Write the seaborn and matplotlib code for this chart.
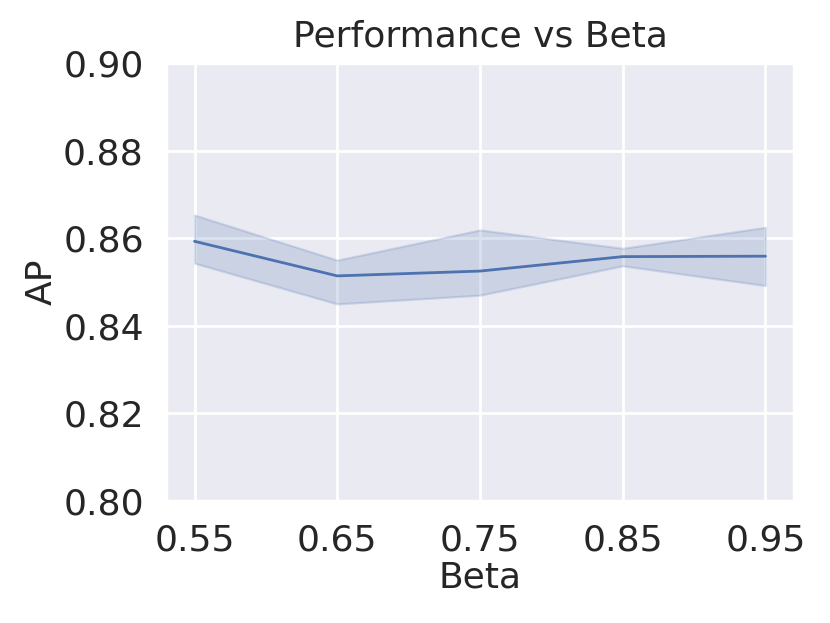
import matplotlib
matplotlib.use("Agg")
import matplotlib.pyplot as plt
import seaborn as sns
import pandas as pd

beta = [0.55, 0.65, 0.75, 0.85, 0.95]
ap_mean = [0.8593, 0.8514, 0.8525, 0.8558, 0.8559]
ap_low = [0.8543, 0.8450, 0.8470, 0.8537, 0.8492]
ap_high = [0.8653, 0.8550, 0.8619, 0.8577, 0.8625]
xtick_labels = ["0.55", "0.65", "0.75", "0.85", "0.95"]
ytick_vals = [0.80, 0.82, 0.84, 0.86, 0.88, 0.90]

sns.set_theme(style="darkgrid")
plt.rcParams['font.family'] = ['DejaVu Sans']

df = pd.DataFrame({"Beta": beta, "AP": ap_mean})

fig = plt.figure(figsize=(4.15, 3.115), dpi=200)
ax = fig.add_axes([0.2, 0.1958, 0.7566, 0.703])
color = sns.color_palette()[0]
sns.lineplot(data=df, x="Beta", y="AP", ax=ax, color=color, linewidth=1.0, errorbar=None)
ax.fill_between(beta, ap_low, ap_high, color=color, alpha=0.2, linewidth=0.8)

ax.set_ylim(0.80, 0.90)
ax.set_yticks(ytick_vals)
ax.set_yticklabels([f"{v:.2f}" for v in ytick_vals])
ax.set_xticks(beta)
ax.set_xticklabels(xtick_labels)
ax.tick_params(axis="both", labelsize=13, pad=2)
ax.set_xlabel("Beta", fontsize=13, labelpad=1)
ax.set_ylabel("AP", fontsize=13, labelpad=1.5)
ax.set_title("Performance vs Beta", fontsize=13, pad=6)

fig.savefig("out.png", dpi=200)
